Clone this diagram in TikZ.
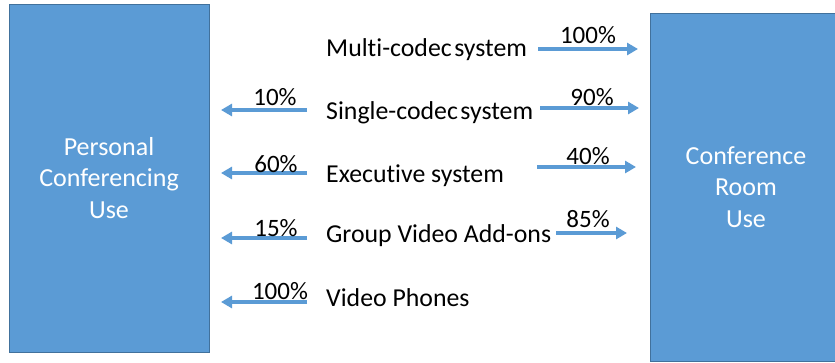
\documentclass[tikz,border=0pt]{standalone}
\usepackage{fontspec}
\setmainfont{Carlito}[Ligatures=NoCommon]
\usetikzlibrary{arrows.meta}
\definecolor{boxblue}{HTML}{5B9BD5}
\definecolor{boxedge}{HTML}{41719C}
\tikzset{
  usebox/.style={draw=boxedge, line width=1pt, fill=boxblue, text=white, align=center, inner sep=0pt,
    font=\fontsize{26}{31.5}\selectfont},
  item/.style={anchor=base west, inner sep=0pt, font=\fontsize{25.8}{30}\selectfont},
  pct/.style={anchor=base, inner sep=0pt, font=\fontsize{25}{30}\selectfont},
  flow/.style={draw=boxblue, line width=3.8pt, -{Triangle[length=11pt,width=12pt]}, shorten >=0pt},
}
\begin{document}
\begin{tikzpicture}[x=1pt,y=-1pt]
\useasboundingbox (0,0) rectangle (835,362);
\fill[white] (0,0) rectangle (835,362);
% boxes
\node[usebox, minimum width=200pt, minimum height=348pt] (pers) at (109,178) {Personal\\Conferencing\\Use};
\node[usebox, minimum width=192pt, minimum height=348pt] (room) at (746,187) {Conference\\Room\\Use};
% items
\node[item] (multi) at (326,56) {Multi-codec\kern0.1em system};
\node[item] (single) at (326,119) {Single-codec\kern0.1em system};
\node[item] (exec) at (326,182) {Executive system};
\node[item] (group) at (326,242) {Group Video Add-ons};
\node[item] (phone) at (326,306) {Video Phones};
% arrow coordinates
\coordinate (mR0) at (538,49);  \coordinate (mR1) at (638,49);
\coordinate (sR0) at (540,108); \coordinate (sR1) at (639,108);
\coordinate (eR0) at (537,167); \coordinate (eR1) at (636,167);
\coordinate (gR0) at (556,233); \coordinate (gR1) at (627,233);
\coordinate (sL0) at (307,110); \coordinate (sL1) at (221,110);
\coordinate (eL0) at (307,173); \coordinate (eL1) at (221,173);
\coordinate (gL0) at (307,238); \coordinate (gL1) at (221,238);
\coordinate (pL0) at (307,302); \coordinate (pL1) at (221,302);
% arrows
\draw[flow] (mR0) -- (mR1);
\draw[flow] (sR0) -- (sR1);
\draw[flow] (eR0) -- (eR1);
\draw[flow] (gR0) -- (gR1);
\draw[flow] (sL0) -- (sL1);
\draw[flow] (eL0) -- (eL1);
\draw[flow] (gL0) -- (gL1);
\draw[flow] (pL0) -- (pL1);
% percentages
\node[pct] (pm) at (588,43) {100\%};
\node[pct] (ps) at (592,105) {90\%};
\node[pct] (pe) at (588,164) {40\%};
\node[pct] (pg) at (588,227) {85\%};
\node[pct] (ls) at (275,105) {10\%};
\node[pct] (le) at (276,172) {60\%};
\node[pct] (lg) at (276,236) {15\%};
\node[pct] (lp) at (280,299) {100\%};
\end{tikzpicture}
\end{document}
